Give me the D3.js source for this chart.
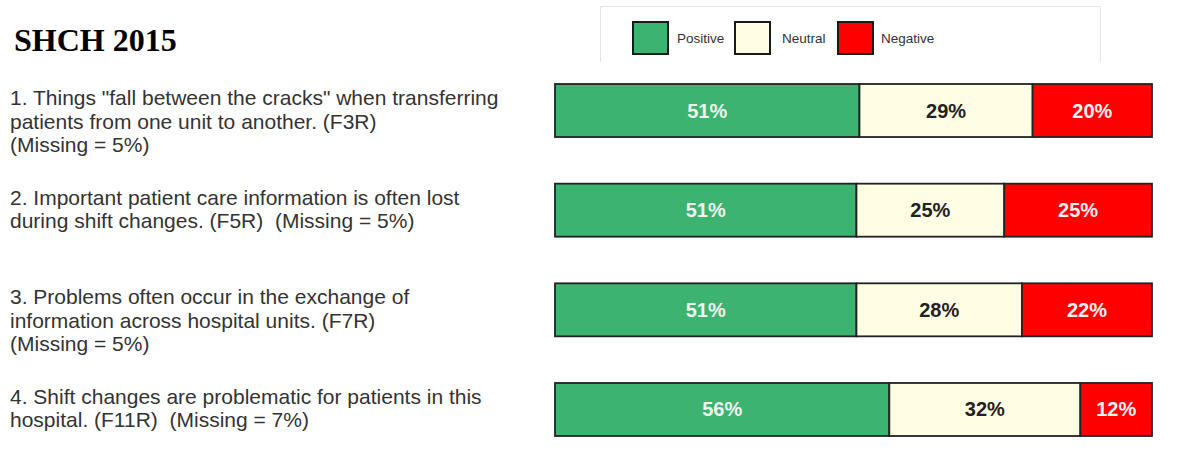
<!DOCTYPE html>
<html>
<head>
<meta charset="utf-8">
<script src="https://d3js.org/d3.v7.min.js"></script>
<style>
  body { margin: 0; background: #fff; }
  svg { display: block; }
</style>
</head>
<body>
<svg width="1190" height="462"></svg>
<script>
// data
var title = "SHCH 2015";
var categories = ["Positive", "Neutral", "Negative"];
var questionLines = [
    ['1. Things "fall between the cracks" when transferring', 'patients from one unit to another. (F3R)', '(Missing = 5%)'],
    ['2. Important patient care information is often lost', 'during shift changes. (F5R)  (Missing = 5%)'],
    ['3. Problems often occur in the exchange of', 'information across hospital units. (F7R)', '(Missing = 5%)'],
    ['4. Shift changes are problematic for patients in this', 'hospital. (F11R)  (Missing = 7%)']
];
var positive = [51, 51, 51, 56];
var neutral  = [29, 25, 28, 32];
var negative = [20, 25, 22, 12];

var rows = questionLines.map(function(q, i) {
    return { id: i, lines: q, Positive: positive[i], Neutral: neutral[i], Negative: negative[i] };
});

var fills  = { Positive: "#3cb371", Neutral: "#fffde4", Negative: "#ff0000" };
var labelC = { Positive: "#eef6ee", Neutral: "#222", Negative: "#fff2f2" };

var svg = d3.select("svg");

// title
svg.append("text")
    .attr("x", 14).attr("y", 51)
    .style("font-family", "'Liberation Serif', 'Times New Roman', serif")
    .style("font-weight", "bold")
    .style("font-size", "32px")
    .style("fill", "#000")
    .text(title);

// legend box (top, left, right edges only)
svg.append("path")
    .attr("d", "M600.5,62 V6.5 H1100.5 V62")
    .attr("fill", "none")
    .attr("stroke", "#e4e4e4")
    .attr("stroke-width", 1);

var legendX = d3.scaleOrdinal().domain(categories).range([633, 735, 838]);
var leg = svg.selectAll(".leg")
    .data(categories)
    .enter().append("g")
    .attr("class", "leg")
    .attr("transform", function(d) { return "translate(" + legendX(d) + ",22)"; });
leg.append("rect")
    .attr("width", 35).attr("height", 32)
    .attr("fill", function(d) { return fills[d]; })
    .attr("stroke", "#1a1a1a").attr("stroke-width", 2);
leg.append("text")
    .attr("x", function(d) { return d == "Positive" ? 44 : (d == "Neutral" ? 47 : 43); })
    .attr("y", 21)
    .style("font-family", "'Liberation Sans', Arial, sans-serif")
    .style("font-size", "13.5px")
    .style("fill", "#333")
    .text(function(d) { return d; });

// scales
var stack = d3.stack().keys(categories).offset(d3.stackOffsetExpand);
var series = stack(rows);

var x = d3.scaleLinear().domain([0, 1]).range([555, 1152]);
var y = d3.scaleBand()
    .domain(rows.map(function(d) { return d.id; }))
    .range([84, 436])
    .paddingInner(0.468)
    .paddingOuter(0);

// question labels
var q = svg.selectAll(".q")
    .data(rows)
    .enter().append("text")
    .attr("class", "q")
    .attr("x", 10)
    .attr("y", function(d) { return y(d.id) + 21; })
    .style("font-family", "'Liberation Sans', Arial, sans-serif")
    .style("font-size", "21px")
    .style("white-space", "pre")
    .style("fill", "#333");
q.selectAll("tspan")
    .data(function(d) { return d.lines; })
    .enter().append("tspan")
    .attr("x", 10)
    .attr("dy", function(d, i) { return i == 0 ? 0 : 23.5; })
    .text(function(d) { return d; });

// bars
var layer = svg.selectAll(".layer")
    .data(series)
    .enter().append("g")
    .attr("class", "layer");

layer.selectAll("rect")
    .data(function(s) { return s.map(function(p) { return { key: s.key, p: p }; }); })
    .enter().append("rect")
    .attr("x", function(d) { return x(d.p[0]); })
    .attr("y", function(d) { return y(d.p.data.id); })
    .attr("width", function(d) { return x(d.p[1]) - x(d.p[0]); })
    .attr("height", y.bandwidth())
    .attr("fill", function(d) { return fills[d.key]; })
    .attr("stroke", "#222")
    .attr("stroke-width", 1.8);

layer.selectAll("text")
    .data(function(s) { return s.map(function(p) { return { key: s.key, p: p }; }); })
    .enter().append("text")
    .attr("x", function(d) { return (x(d.p[0]) + x(d.p[1])) / 2; })
    .attr("y", function(d) { return y(d.p.data.id) + y.bandwidth() / 2; })
    .attr("text-anchor", "middle")
    .attr("dominant-baseline", "central")
    .style("font-family", "'Liberation Sans', Arial, sans-serif")
    .style("font-weight", "bold")
    .style("font-size", "20px")
    .style("fill", function(d) { return labelC[d.key]; })
    .text(function(d) { return d.p.data[d.key] + "%"; });
</script>
</body>
</html>
